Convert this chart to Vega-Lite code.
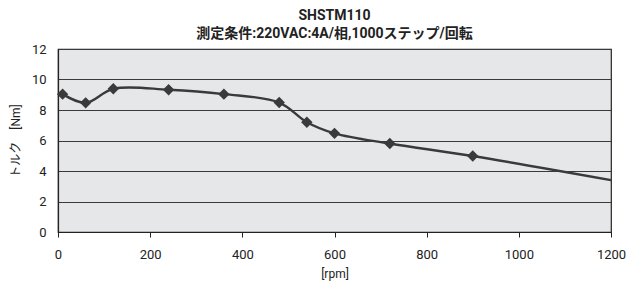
{
  "$schema": "https://vega.github.io/schema/vega-lite/v6.json",
  "autosize": "none",
  "padding": {"left": 58, "top": 49, "right": 15, "bottom": 50},
  "width": 553,
  "height": 183,
  "background": "white",
  "config": {
    "font": "Roboto, 'Noto Sans CJK JP', sans-serif",
    "view": {"fill": "#e6e7e9", "stroke": "#222", "strokeWidth": 1.2}
  },
  "title": {
    "text": "SHSTM110",
    "subtitle": "測定条件:220VAC:4A/相,1000ステップ/回転",
    "anchor": "middle",
    "frame": "group",
    "font": "Roboto, sans-serif",
    "fontSize": 14,
    "fontWeight": "bold",
    "color": "#222",
    "subtitleFont": "Roboto, 'Noto Sans CJK JP', sans-serif",
    "subtitleFontSize": 14,
    "subtitleFontWeight": "bold",
    "subtitleColor": "#222",
    "subtitlePadding": 4,
    "offset": 2
  },
  "data": {
    "values": [
      {"rpm": 10, "torque": 9.04},
      {"rpm": 60, "torque": 8.47},
      {"rpm": 120, "torque": 9.39},
      {"rpm": 240, "torque": 9.33},
      {"rpm": 360, "torque": 9.04},
      {"rpm": 480, "torque": 8.49},
      {"rpm": 540, "torque": 7.2},
      {"rpm": 600, "torque": 6.47},
      {"rpm": 720, "torque": 5.8},
      {"rpm": 900, "torque": 4.98},
      {"rpm": 1200, "torque": 3.4}
    ]
  },
  "encoding": {
    "x": {
      "field": "rpm",
      "type": "quantitative",
      "scale": {"domain": [0, 1200], "nice": false},
      "axis": {
        "title": "[rpm]",
        "format": "d",
        "values": [0, 200, 400, 600, 800, 1000, 1200],
        "grid": false,
        "labelFlush": false,
        "domainColor": "#222",
        "domainWidth": 1.2,
        "tickColor": "#222",
        "tickSize": 5,
        "labelPadding": 11,
        "labelFontSize": 13,
        "labelColor": "#222",
        "titleFontSize": 12,
        "titleFontWeight": "normal",
        "titleColor": "#222",
        "titlePadding": 7
      }
    },
    "y": {
      "field": "torque",
      "type": "quantitative",
      "scale": {"domain": [0, 12], "nice": false},
      "axis": {
        "title": "トルク　[Nm]",
        "values": [0, 2, 4, 6, 8, 10, 12],
        "grid": true,
        "gridColor": "#3a3a3a",
        "gridWidth": 1.2,
        "domainColor": "#222",
        "domainWidth": 1.2,
        "ticks": false,
        "labelFlush": false,
        "labelPadding": 12,
        "labelFontSize": 13,
        "labelColor": "#222",
        "titleFont": "Roboto, 'Noto Sans CJK JP', sans-serif",
        "titleFontSize": 12,
        "titleFontWeight": "normal",
        "titleColor": "#222",
        "titlePadding": 9
      }
    }
  },
  "layer": [
    {
      "mark": {"type": "line", "interpolate": "catmull-rom", "color": "#3a3a3a", "strokeWidth": 2.4}
    },
    {
      "transform": [{"filter": "datum.rpm < 1200"}],
      "mark": {"type": "point", "shape": "diamond", "filled": true, "color": "#3a3a3a", "size": 130, "opacity": 1}
    }
  ]
}
